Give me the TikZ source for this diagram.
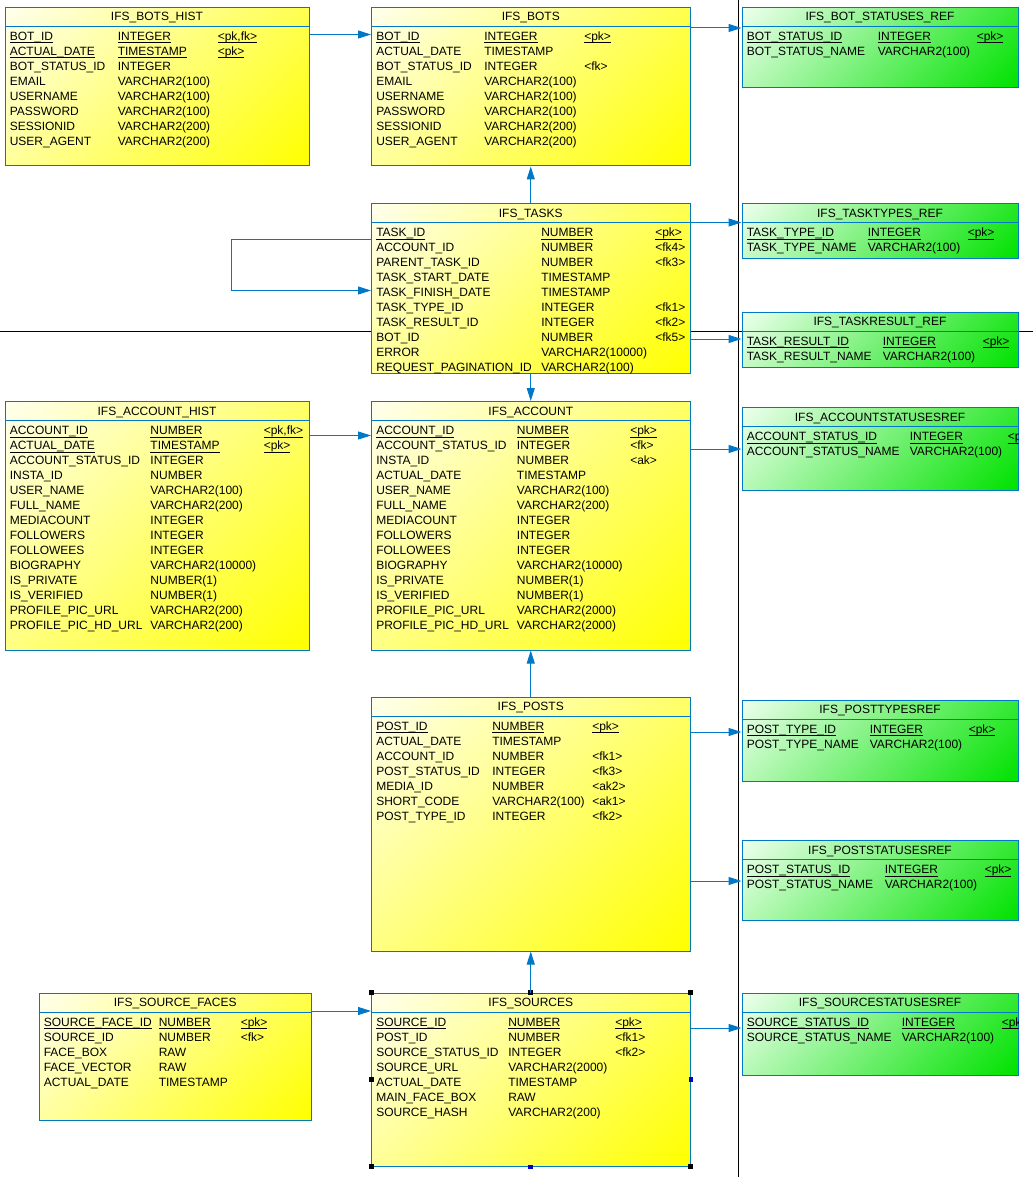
\documentclass[tikz,border=0pt]{standalone}
\usepackage{fontspec}
\setmainfont{Liberation Sans}
\usepackage{array}
\usetikzlibrary{arrows.meta,fit}
\definecolor{erdblue}{RGB}{0,120,200}
\definecolor{erdyel}{RGB}{255,255,0}
\definecolor{erdyellt}{RGB}{255,255,235}
\definecolor{erdgrn}{RGB}{0,226,0}
\definecolor{erdgrnlt}{RGB}{236,255,236}
\pgfdeclareverticalshading{erdyshade}{100bp}{color(0bp)=(erdyel); color(15bp)=(erdyel); color(85bp)=(erdyellt); color(100bp)=(erdyellt)}
\pgfdeclareverticalshading{erdgshade}{100bp}{color(0bp)=(erdgrn); color(15bp)=(erdgrn); color(85bp)=(erdgrnlt); color(100bp)=(erdgrnlt)}
\newsavebox\pkbox
\newcommand{\pkul}[1]{\leavevmode\sbox\pkbox{#1}\rlap{\rule[-2.25pt]{\wd\pkbox}{0.75pt}}\usebox\pkbox}
\setlength{\tabcolsep}{0pt}
\begin{document}
\begin{tikzpicture}[x=0.75pt, y=-0.75pt, every node/.style={font=\fontsize{9}{11.25}\selectfont},
  tbl/.style={draw=erdblue, line width=0.75pt, inner sep=0pt, path picture={
    \draw[erdblue, line width=0.75pt] ([yshift=-14.25pt]path picture bounding box.north west)
      -- ([yshift=-14.25pt]path picture bounding box.north east);}},
  ytbl/.style={tbl, shade, shading=erdyshade, shading angle=45},
  gtbl/.style={tbl, shade, shading=erdgshade, shading angle=45},
  ttl/.style={anchor=base, inner sep=0pt},
  body/.style={anchor=base west, inner sep=0pt},
  fk/.style={erdblue, line width=0.75pt, -{Triangle[length=9.75pt,width=6pt]}},
  sep/.style={black, line width=0.75pt}]
  \fill[white] (0,0) rectangle (1033,1187);
  \useasboundingbox (0,0) rectangle (1033,1187);
  % separators
  \draw[sep] (738,0) -- (738,1177);
  \draw[sep] (0,331) -- (1033,331);
  % IFS_BOTS_HIST
  \node[ytbl, fit={(5,7.5) (309,166)}] (botshist) {};
  \node[ttl] (botshist-t) at ([shift={(0,14)}]botshist.north) {IFS\_BOTS\_HIST};
  \node[body] (botshist-b) at ([shift={(5,33.5)}]botshist.north west) {\begin{tabular}[t]{@{}p{81pt}p{75pt}l@{}}
    \pkul{BOT\_ID} & \pkul{INTEGER} & \pkul{<pk,fk>}\\
    \pkul{ACTUAL\_DATE} & \pkul{TIMESTAMP} & \pkul{<pk>}\\
    BOT\_STATUS\_ID & INTEGER & \\
    EMAIL & VARCHAR2(100) & \\
    USERNAME & VARCHAR2(100) & \\
    PASSWORD & VARCHAR2(100) & \\
    SESSIONID & VARCHAR2(200) & \\
    USER\_AGENT & VARCHAR2(200) &
  \end{tabular}};
  % IFS_BOTS
  \node[ytbl, fit={(371.5,7.5) (690,166)}] (bots) {};
  \node[ttl] (bots-t) at ([shift={(0,14)}]bots.north) {IFS\_BOTS};
  \node[body] (bots-b) at ([shift={(5,33.5)}]bots.north west) {\begin{tabular}[t]{@{}p{81pt}p{75pt}l@{}}
    \pkul{BOT\_ID} & \pkul{INTEGER} & \pkul{<pk>}\\
    ACTUAL\_DATE & TIMESTAMP & \\
    BOT\_STATUS\_ID & INTEGER & <fk>\\
    EMAIL & VARCHAR2(100) & \\
    USERNAME & VARCHAR2(100) & \\
    PASSWORD & VARCHAR2(100) & \\
    SESSIONID & VARCHAR2(200) & \\
    USER\_AGENT & VARCHAR2(200) &
  \end{tabular}};
  % IFS_BOT_STATUSES_REF
  \node[gtbl, fit={(742,7.5) (1018,88)}] (botstat) {};
  \node[ttl] (botstat-t) at ([shift={(0,14)}]botstat.north) {IFS\_BOT\_STATUSES\_REF};
  \node[body] (botstat-b) at ([shift={(5,33.5)}]botstat.north west) {\begin{tabular}[t]{@{}p{98.25pt}p{74.25pt}l@{}}
    \pkul{BOT\_STATUS\_ID} & \pkul{INTEGER} & \pkul{<pk>}\\
    BOT\_STATUS\_NAME & VARCHAR2(100) &
  \end{tabular}};
  % IFS_TASKS
  \node[ytbl, fit={(371.5,204) (690,373)}] (tasks) {};
  \node[ttl] (tasks-t) at ([shift={(0,14)}]tasks.north) {IFS\_TASKS};
  \begin{scope}
    \clip (tasks.north west) rectangle (tasks.south east);
    \node[body] (tasks-b) at ([shift={(5,33.5)}]tasks.north west) {\begin{tabular}[t]{@{}p{123.75pt}p{85.5pt}l@{}}
      \pkul{TASK\_ID} & \pkul{NUMBER} & \pkul{<pk>}\\
      ACCOUNT\_ID & NUMBER & <fk4>\\
      PARENT\_TASK\_ID & NUMBER & <fk3>\\
      TASK\_START\_DATE & TIMESTAMP & \\
      TASK\_FINISH\_DATE & TIMESTAMP & \\
      TASK\_TYPE\_ID & INTEGER & <fk1>\\
      TASK\_RESULT\_ID & INTEGER & <fk2>\\
      BOT\_ID & NUMBER & <fk5>\\
      ERROR & VARCHAR2(10000) & \\
      REQUEST\_PAGINATION\_ID & VARCHAR2(100) &
    \end{tabular}};
  \end{scope}
  % IFS_TASKTYPES_REF
  \node[gtbl, fit={(742,204) (1018,259)}] (tasktypes) {};
  \node[ttl] (tasktypes-t) at ([shift={(0,14)}]tasktypes.north) {IFS\_TASKTYPES\_REF};
  \node[body] (tasktypes-b) at ([shift={(5,33.5)}]tasktypes.north west) {\begin{tabular}[t]{@{}p{90.75pt}p{75pt}l@{}}
    \pkul{TASK\_TYPE\_ID} & \pkul{INTEGER} & \pkul{<pk>}\\
    TASK\_TYPE\_NAME & VARCHAR2(100) &
  \end{tabular}};
  % IFS_TASKRESULT_REF
  \node[gtbl, fit={(742,312) (1018,367)}] (taskres) {};
  \node[ttl] (taskres-t) at ([shift={(0,14)}]taskres.north) {IFS\_TASKRESULT\_REF};
  \node[body] (taskres-b) at ([shift={(5,33.5)}]taskres.north west) {\begin{tabular}[t]{@{}p{102pt}p{75pt}l@{}}
    \pkul{TASK\_RESULT\_ID} & \pkul{INTEGER} & \pkul{<pk>}\\
    TASK\_RESULT\_NAME & VARCHAR2(100) &
  \end{tabular}};
  % IFS_ACCOUNT_HIST
  \node[ytbl, fit={(5,401.5) (309,650)}] (acchist) {};
  \node[ttl] (acchist-t) at ([shift={(0,14)}]acchist.north) {IFS\_ACCOUNT\_HIST};
  \node[body] (acchist-b) at ([shift={(5,33.5)}]acchist.north west) {\begin{tabular}[t]{@{}p{105.5pt}p{85pt}l@{}}
    \pkul{ACCOUNT\_ID} & \pkul{NUMBER} & \pkul{<pk,fk>}\\
    \pkul{ACTUAL\_DATE} & \pkul{TIMESTAMP} & \pkul{<pk>}\\
    ACCOUNT\_STATUS\_ID & INTEGER & \\
    INSTA\_ID & NUMBER & \\
    USER\_NAME & VARCHAR2(100) & \\
    FULL\_NAME & VARCHAR2(200) & \\
    MEDIACOUNT & INTEGER & \\
    FOLLOWERS & INTEGER & \\
    FOLLOWEES & INTEGER & \\
    BIOGRAPHY & VARCHAR2(10000) & \\
    IS\_PRIVATE & NUMBER(1) & \\
    IS\_VERIFIED & NUMBER(1) & \\
    PROFILE\_PIC\_URL & VARCHAR2(200) & \\
    PROFILE\_PIC\_HD\_URL & VARCHAR2(200) &
  \end{tabular}};
  % IFS_ACCOUNT
  \node[ytbl, fit={(371.5,401.5) (690,650)}] (account) {};
  \node[ttl] (account-t) at ([shift={(0,14)}]account.north) {IFS\_ACCOUNT};
  \node[body] (account-b) at ([shift={(5,33.5)}]account.north west) {\begin{tabular}[t]{@{}p{105.5pt}p{85pt}l@{}}
    \pkul{ACCOUNT\_ID} & \pkul{NUMBER} & \pkul{<pk>}\\
    ACCOUNT\_STATUS\_ID & INTEGER & <fk>\\
    INSTA\_ID & NUMBER & <ak>\\
    ACTUAL\_DATE & TIMESTAMP & \\
    USER\_NAME & VARCHAR2(100) & \\
    FULL\_NAME & VARCHAR2(200) & \\
    MEDIACOUNT & INTEGER & \\
    FOLLOWERS & INTEGER & \\
    FOLLOWEES & INTEGER & \\
    BIOGRAPHY & VARCHAR2(10000) & \\
    IS\_PRIVATE & NUMBER(1) & \\
    IS\_VERIFIED & NUMBER(1) & \\
    PROFILE\_PIC\_URL & VARCHAR2(2000) & \\
    PROFILE\_PIC\_HD\_URL & VARCHAR2(2000) &
  \end{tabular}};
  % IFS_ACCOUNTSTATUSESREF
  \node[gtbl, fit={(742,407.5) (1018,490)}] (accstat) {};
  \node[ttl] (accstat-t) at ([shift={(0,14)}]accstat.north) {IFS\_ACCOUNTSTATUSESREF};
  \begin{scope}
    \clip (accstat.north west) rectangle (accstat.south east);
    \node[body] (accstat-b) at ([shift={(5,33.5)}]accstat.north west) {\begin{tabular}[t]{@{}p{122.25pt}p{73.5pt}l@{}}
      \pkul{ACCOUNT\_STATUS\_ID} & \pkul{INTEGER} & \pkul{<pk>}\\
      ACCOUNT\_STATUS\_NAME & VARCHAR2(100) &
    \end{tabular}};
  \end{scope}
  % IFS_POSTS
  \node[ytbl, fit={(371.5,697) (690,951)}] (posts) {};
  \node[ttl] (posts-t) at ([shift={(0,14)}]posts.north) {IFS\_POSTS};
  \node[body] (posts-b) at ([shift={(5,33.5)}]posts.north west) {\begin{tabular}[t]{@{}p{87pt}p{75pt}l@{}}
    \pkul{POST\_ID} & \pkul{NUMBER} & \pkul{<pk>}\\
    ACTUAL\_DATE & TIMESTAMP & \\
    ACCOUNT\_ID & NUMBER & <fk1>\\
    POST\_STATUS\_ID & INTEGER & <fk3>\\
    MEDIA\_ID & NUMBER & <ak2>\\
    SHORT\_CODE & VARCHAR2(100) & <ak1>\\
    POST\_TYPE\_ID & INTEGER & <fk2>
  \end{tabular}};
  % IFS_POSTTYPESREF
  \node[gtbl, fit={(742,700) (1018,781.5)}] (posttypes) {};
  \node[ttl] (posttypes-t) at ([shift={(0,14)}]posttypes.north) {IFS\_POSTTYPESREF};
  \node[body] (posttypes-b) at ([shift={(5,33.5)}]posttypes.north west) {\begin{tabular}[t]{@{}p{92.25pt}p{74.25pt}l@{}}
    \pkul{POST\_TYPE\_ID} & \pkul{INTEGER} & \pkul{<pk>}\\
    POST\_TYPE\_NAME & VARCHAR2(100) &
  \end{tabular}};
  % IFS_POSTSTATUSESREF
  \node[gtbl, fit={(742,840.5) (1018,920.5)}] (poststat) {};
  \node[ttl] (poststat-t) at ([shift={(0,14)}]poststat.north) {IFS\_POSTSTATUSESREF};
  \node[body] (poststat-b) at ([shift={(5,33.5)}]poststat.north west) {\begin{tabular}[t]{@{}p{103.5pt}p{75pt}l@{}}
    \pkul{POST\_STATUS\_ID} & \pkul{INTEGER} & \pkul{<pk>}\\
    POST\_STATUS\_NAME & VARCHAR2(100) &
  \end{tabular}};
  % IFS_SOURCE_FACES
  \node[ytbl, fit={(39,993) (311.5,1120.5)}] (faces) {};
  \node[ttl] (faces-t) at ([shift={(0,14)}]faces.north) {IFS\_SOURCE\_FACES};
  \node[body] (faces-b) at ([shift={(5,33.5)}]faces.north west) {\begin{tabular}[t]{@{}p{86.25pt}p{61.5pt}l@{}}
    \pkul{SOURCE\_FACE\_ID} & \pkul{NUMBER} & \pkul{<pk>}\\
    SOURCE\_ID & NUMBER & <fk>\\
    FACE\_BOX & RAW & \\
    FACE\_VECTOR & RAW & \\
    ACTUAL\_DATE & TIMESTAMP &
  \end{tabular}};
  % IFS_SOURCES
  \node[ytbl, fit={(371.5,993) (690,1166)}] (sources) {};
  \node[ttl] (sources-t) at ([shift={(0,14)}]sources.north) {IFS\_SOURCES};
  \node[body] (sources-b) at ([shift={(5,33.5)}]sources.north west) {\begin{tabular}[t]{@{}p{99pt}p{80.25pt}l@{}}
    \pkul{SOURCE\_ID} & \pkul{NUMBER} & \pkul{<pk>}\\
    POST\_ID & NUMBER & <fk1>\\
    SOURCE\_STATUS\_ID & INTEGER & <fk2>\\
    SOURCE\_URL & VARCHAR2(2000) & \\
    ACTUAL\_DATE & TIMESTAMP & \\
    MAIN\_FACE\_BOX & RAW & \\
    SOURCE\_HASH & VARCHAR2(200) &
  \end{tabular}};
  % IFS_SOURCESTATUSESREF
  \node[gtbl, fit={(742,993) (1018,1075)}] (srcstat) {};
  \node[ttl] (srcstat-t) at ([shift={(0,14)}]srcstat.north) {IFS\_SOURCESTATUSESREF};
  \begin{scope}
    \clip (srcstat.north west) rectangle (srcstat.south east);
    \node[body] (srcstat-b) at ([shift={(5,33.5)}]srcstat.north west) {\begin{tabular}[t]{@{}p{116.25pt}p{75pt}l@{}}
      \pkul{SOURCE\_STATUS\_ID} & \pkul{INTEGER} & \pkul{<pk>}\\
      SOURCE\_STATUS\_NAME & VARCHAR2(100) &
    \end{tabular}};
  \end{scope}
  % selection handles
  \fill (sources.north west) +(-2.5,-2.5) rectangle +(2.5,2.5);
  \fill (sources.north) +(-2.5,-2.5) rectangle +(2.5,2.5);
  \fill (sources.north east) +(-2.5,-2.5) rectangle +(2.5,2.5);
  \fill (sources.west) +(-2.5,-2.5) rectangle +(2.5,2.5);
  \fill[blue!80!black] (sources.east) +(-2,-2.5) rectangle +(2,2.5);
  \fill (sources.south west) +(-2.5,-2.5) rectangle +(2.5,2.5);
  \fill[blue!80!black] (sources.south) +(-2.5,-2) rectangle +(2.5,2);
  \fill (sources.south east) +(-2.5,-2.5) rectangle +(2.5,2.5);
  % references
  \draw[fk] (botshist.east |- 0,34.5) -- (bots.west |- 0,34.5);
  \draw[fk] (bots.east |- 0,28) -- (botstat.west |- 0,28);
  \draw[fk] (tasks.north) -- (bots.south);
  \draw[fk] (tasks.east |- 0,222.5) -- (tasktypes.west |- 0,222.5);
  \draw[fk] (tasks.west |- 0,239.5) -- ++(-140,0) |- (tasks.west |- 0,290.5);
  \draw[fk] (tasks.east |- 0,339) -- (taskres.west |- 0,339);
  \draw[fk] (tasks.south) -- (account.north);
  \draw[fk] (acchist.east |- 0,435.5) -- (account.west |- 0,435.5);
  \draw[fk] (account.east |- 0,449) -- (accstat.west |- 0,449);
  \draw[fk] (posts.north) -- (account.south);
  \draw[fk] (posts.east |- 0,732) -- (posttypes.west |- 0,732);
  \draw[fk] (posts.east |- 0,881) -- (poststat.west |- 0,881);
  \draw[fk] (sources.north) -- (posts.south);
  \draw[fk] (faces.east |- 0,1011) -- (sources.west |- 0,1011);
  \draw[fk] (sources.east |- 0,1028) -- (srcstat.west |- 0,1028);
\end{tikzpicture}
\end{document}
